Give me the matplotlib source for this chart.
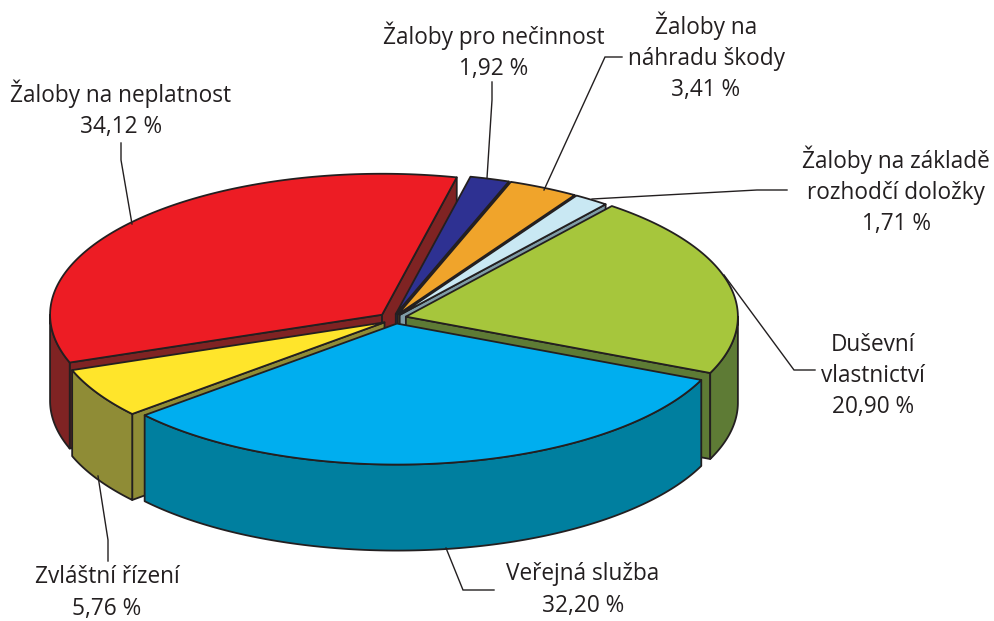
#!/usr/bin/env python3
"""Exploded 3D-look pie: share of cases by type (Czech labels)"""

import numpy as np
import matplotlib
matplotlib.use('Agg')
import matplotlib.pyplot as plt
from matplotlib.patches import Polygon

plt.rcParams['font.family'] = ['Open Sans', 'DejaVu Sans']

# Clockwise from the top, same order as the pie
names = ['Žaloby pro nečinnost', 'Žaloby na\nnáhradu škody',
         'Žaloby na základě\nrozhodčí doložky', 'Duševní\nvlastnictví',
         'Veřejná služba', 'Zvláštní řízení', 'Žaloby na neplatnost']
values = [1.92, 3.41, 1.71, 20.90, 32.20, 5.76, 34.12]
top_colors = ['#2E3192', '#F0A42B', '#C9E8F3', '#A6C63C', '#00AEEF', '#FFE52B', '#ED1C24']
side_colors = ['#28285F', '#9A6A20', '#7F9CA6', '#5E7B35', '#007F9F', '#8F8C36', '#7F2323']

# Pie geometry in pixels
CX, CY = 392, 319.5
A, B = 332, 141
DEPTH = 86
EXPLODE = 0.04
START = 77
EDGE = '#231F20'
LW = 1.3

# Small per-slice shifts, the original is not a perfect ellipse
nudges = [(0, 0), (0, 0), (0, 0), (1, -1.5), (3, -1.5), (4, 0), (0, -1)]

# Label centre positions and leader lines, by slice
label_pos = [(494, 51), (706, 57), (896, 191), (873, 376), (583, 590), (107, 593), (121, 109)]
leaders = [
    [(487, 178), (492, 100), (492, 82)],
    [(544, 190), (605, 57), (622, 57)],
    [(592, 199), (757, 190), (787, 190)],
    [(724, 275), (794, 370), (815, 370)],
    [(446, 548), (463, 590), (494, 590)],
    [(98, 476), (108, 540), (108, 561)],
    [(132, 224), (121, 160), (121, 143)],
]


def rim(cx, cy, t1, t2, dy=0):
    """Points along the ellipse between angles t1 and t2 (degrees)"""
    t = np.radians(np.linspace(t1, t2, 120))
    return np.column_stack([cx + A * np.cos(t), cy - B * np.sin(t) + dy])


def draw_slice(ax, cx, cy, t_start, t_end, top, side):
    # cut faces that look towards the viewer
    for t, visible in ((t_start, np.cos(np.radians(t_start)) < 0),
                       (t_end, np.cos(np.radians(t_end)) > 0)):
        if visible:
            p = rim(cx, cy, t, t)[0]
            ax.add_patch(Polygon([(cx, cy), p, (p[0], p[1] + DEPTH), (cx, cy + DEPTH)],
                                 fc=side, ec=EDGE, lw=LW, joinstyle='round'))

    # outer wall, only the part on the front half of the ellipse
    lo, hi = max(t_end, -180), min(t_start, 0)
    if hi > lo:
        upper = rim(cx, cy, hi, lo)
        lower = rim(cx, cy, lo, hi, dy=DEPTH)
        ax.add_patch(Polygon(np.vstack([upper, lower]), fc=side, ec=EDGE, lw=LW,
                             joinstyle='round'))

    ax.add_patch(Polygon(np.vstack([[(cx, cy)], rim(cx, cy, t_start, t_end)]),
                         fc=top, ec=EDGE, lw=LW, joinstyle='round'))


def main():
    fig = plt.figure(figsize=(9.95, 6.21), dpi=100)
    ax = fig.add_axes([0, 0, 1, 1])
    ax.set_xlim(0, 995)
    ax.set_ylim(621, 0)
    ax.axis('off')

    # Slice angles from the values
    total = sum(values)
    sweeps = [v / total * 360 for v in values]
    starts = START - np.concatenate([[0], np.cumsum(sweeps)[:-1]])
    ends = starts - np.array(sweeps)

    for pts in leaders:
        xs, ys = zip(*pts)
        ax.plot(xs, ys, color=EDGE, lw=1.0, solid_joinstyle='miter')

    # Back to front: red, small ones, green, yellow, cyan
    for i in [6, 0, 1, 2, 3, 5, 4]:
        mid = np.radians((starts[i] + ends[i]) / 2)
        cx = CX + EXPLODE * A * np.cos(mid) + nudges[i][0]
        cy = CY - EXPLODE * B * np.sin(mid) + nudges[i][1]
        draw_slice(ax, cx, cy, starts[i], ends[i], top_colors[i], side_colors[i])

    for name, val, (x, y) in zip(names, values, label_pos):
        txt = f"{name}\n{val:.2f} %".replace('.', ',')
        ax.text(x, y, txt, ha='center', va='center', fontsize=16.3, color=EDGE,
                linespacing=1.4)

    fig.savefig('out.png', dpi=100)


if __name__ == "__main__":
    main()
